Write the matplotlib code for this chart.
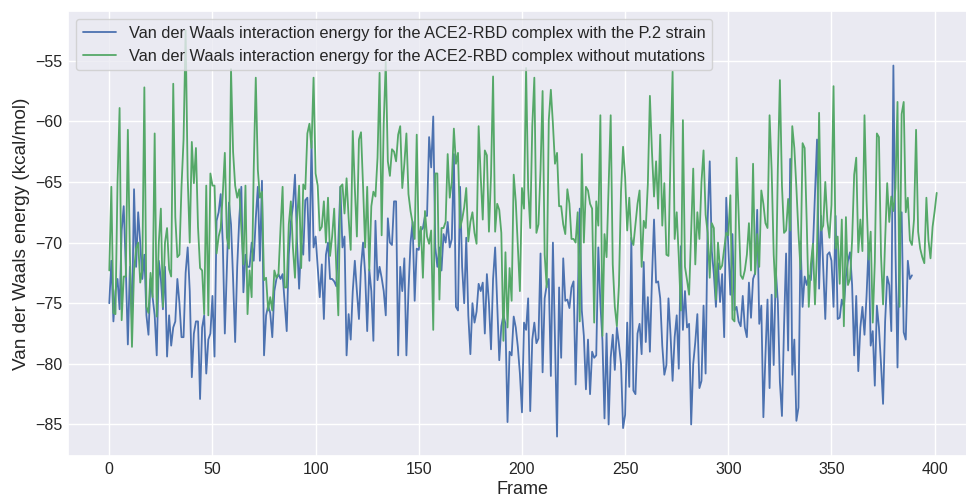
import matplotlib
matplotlib.use('Agg')
import matplotlib.pyplot as plt
import seaborn as sns
import numpy as np

# Van der Waals energy per frame (kcal/mol)
p2_strain = [
    -75, -71.5, -76.5, -74, -73, -75.5, -69, -67, -72, -78.4,
    -72, -76.5, -65.6, -72, -67.5, -70, -73, -71, -76, -77.6,
    -73, -74.5, -76, -79.3, -71.5, -73, -75.5, -72, -79.4, -76,
    -78.5, -77, -76.5, -73, -75, -77.8, -77.8, -72.5, -70.4, -74,
    -81.1, -77.5, -76.5, -76.5, -82.9, -77, -76, -80.8, -78, -77.5,
    -74.4, -79.4, -68.2, -67.5, -66, -70, -77.5, -72, -66.7, -68.5,
    -73, -78.2, -72, -68, -65.4, -74.1, -71, -72, -72, -70,
    -71.5, -68, -65.4, -71.5, -64.9, -79.3, -76, -75.2, -75.8, -77.8,
    -74, -73, -72.6, -73, -72.6, -75, -77.3, -71, -68.3, -67,
    -64.4, -70, -73.8, -70, -71, -66.5, -66.3, -71.5, -61.6, -70.4,
    -69.5, -72, -74.5, -71.8, -76.3, -71, -70, -73, -73, -73.2,
    -73.6, -70, -65.4, -70.4, -69.5, -79.3, -75.9, -78, -74, -71.5,
    -74, -76.3, -72, -70, -72.6, -77.3, -72.2, -74, -78.1, -68.2,
    -73.1, -72, -72.9, -74, -76, -68, -70, -70.2, -66.6, -66.6,
    -79.3, -72, -74, -71.3, -79.3, -74, -70, -68.3, -74.8, -70.5,
    -70.6, -69, -68.8, -67.8, -67.8, -61.3, -63.8, -59.6, -70.4, -72,
    -70.4, -72.3, -69.3, -70, -68.3, -70.4, -69.7, -62.7, -75.3, -75.6,
    -65.4, -72, -75, -69.6, -76, -79.2, -75, -76.6, -75.7, -73.4,
    -74, -73.3, -77.5, -72.6, -75, -78.8, -73, -70.4, -75, -79.7,
    -76.9, -76, -76.7, -84.8, -79, -79.3, -76.1, -77, -78.6, -80.8,
    -84, -76.6, -77.2, -74.6, -83.9, -78, -76.6, -78.3, -77.9, -70.9,
    -80.7, -74.6, -73.5, -73, -81, -70, -78.1, -86, -73.7, -79.5,
    -71.3, -74.8, -74.7, -75.4, -73.7, -73.2, -81.7, -75, -67.2, -75.6,
    -77.7, -82.1, -78, -82.5, -79, -79.5, -79.3, -70.4, -75, -78.1,
    -84.5, -77.5, -85, -79.5, -77.6, -80.5, -77, -78.4, -80, -85.3,
    -84.2, -76.6, -81.9, -69.6, -82.2, -82.5, -77.5, -76.7, -79.2, -71.6,
    -78.2, -74.5, -79, -73, -68.1, -73.3, -73.2, -74.6, -78.5, -80.9,
    -80.1, -74.6, -77.6, -81.4, -77.8, -76, -80.4, -70.3, -77.2, -74,
    -77, -76.7, -85, -80, -78.2, -75.9, -82, -81.4, -75.2, -80.8,
    -68.1, -63.3, -70.7, -72.6, -75.3, -71.7, -74.9, -72.6, -77.8, -66.3,
    -70.2, -74.3, -69.3, -75.6, -75.3, -76.5, -76.9, -74.4, -77, -77.8,
    -73.3, -76.2, -73, -72.5, -67.3, -76.7, -75.2, -84.4, -79.3, -74.7,
    -82, -74.3, -80.1, -72.2, -74.9, -81.5, -84.3, -77, -70.9, -78.9,
    -63.1, -80.9, -78, -84.7, -83.6, -69.9, -75.3, -72.8, -73.5, -72.7,
    -73.1, -70.5, -66, -61.5, -73.8, -67.8, -72, -76.3, -71, -70.8,
    -71.5, -75.3, -67.8, -76.3, -76.2, -74.7, -75.3, -72.8, -71.5, -70.8,
    -73.5, -79.3, -74.4, -80.6, -77, -75.3, -77.6, -74.4, -70.2, -78.5,
    -77.3, -81.8, -75.2, -77, -80, -83.3, -76.5, -72.8, -73.5, -77.3,
    -55.4, -70.5, -80.3, -69.8, -67.5, -77.4, -78, -71.5, -73, -72.7,
]

wild_type = [
    -72.3, -65.4, -75.8, -75.9, -65, -58.9, -76.4, -72.8, -72.8, -60.7,
    -71, -78.6, -72.3, -70.5, -70, -73.3, -72.2, -57.2, -75.3, -75.8,
    -72.5, -74.5, -61, -76.1, -70, -67.2, -75.3, -70, -68.8, -72.2,
    -72.8, -56.9, -67.9, -71.2, -71, -65.4, -61.5, -52.5, -64.6, -70,
    -61.7, -65.1, -62.2, -68.7, -72.1, -72.3, -75.9, -65.3, -76, -64.3,
    -65.3, -65.3, -70.9, -69.5, -68.8, -66, -62.6, -69.6, -70.5, -55.7,
    -62.5, -65.3, -66.3, -65.6, -68.8, -71.8, -65.3, -75.9, -72.3, -74.5,
    -64, -56.4, -64, -66.3, -65.8, -73.1, -72.9, -75.6, -74.5, -75.6,
    -72.3, -72.9, -72.6, -68.8, -65.4, -73.7, -73.7, -68.5, -66.6, -70.4,
    -72.9, -68.2, -65.3, -72.1, -65.2, -65.6, -61, -60.2, -62.2, -56.4,
    -64.3, -65.3, -69, -68.7, -66.6, -70, -66.3, -71.1, -69.5, -67.2,
    -72, -76, -65.4, -65.2, -67.6, -64.7, -68, -70.6, -60.8, -65.5,
    -69.5, -61.5, -60.9, -65.4, -70.4, -65.4, -72.3, -67, -65.8, -66.2,
    -63, -56, -69.4, -60.2, -55.1, -63.3, -64.5, -62.3, -62.5, -63.3,
    -61.1, -60.4, -65.5, -63.5, -61, -66, -67.4, -68.4, -69.7, -61.1,
    -70.3, -68.7, -72.9, -67.4, -69.5, -70.1, -69, -77.2, -64.3, -64.3,
    -74.7, -68.8, -68.8, -68.3, -62.7, -66.3, -65, -60.6, -63.5, -62.6,
    -68.8, -68.1, -67.1, -65.5, -69.9, -68.3, -67.5, -69.2, -70.1, -60.4,
    -64.5, -68.1, -62.4, -62.8, -69.1, -64.5, -56.3, -69.1, -66.8, -67.3,
    -69.2, -78.1, -70.8, -77, -72.1, -74.8, -64.4, -66.6, -70.3, -74,
    -65.5, -67.2, -55.6, -65.5, -68.8, -60.4, -56.4, -69.2, -68.5, -64,
    -57.5, -71, -73.7, -59.9, -57.4, -60.2, -63.5, -62.6, -67, -67,
    -68.5, -69.3, -65.6, -66.8, -69.7, -69.7, -70, -67.5, -76.5, -62.7,
    -70, -65.4, -65.7, -66.8, -67.2, -76.6, -66.6, -68.6, -59.5, -77.7,
    -69.3, -71.2, -65.4, -59.5, -71.8, -75.3, -76.9, -73.5, -65.8, -62.1,
    -64.6, -69, -66.3, -69.7, -70.2, -68.5, -66.8, -65.7, -72, -68.2,
    -68.8, -65.2, -57.9, -62.5, -66.2, -63.3, -67.2, -61.1, -68.6, -65.1,
    -71, -71.1, -62.7, -55.9, -69.7, -67.5, -71.2, -75.6, -59.9, -72,
    -73.1, -74.3, -69, -63.9, -71.8, -67.5, -69.7, -65, -62.4, -67.7,
    -69.2, -72.9, -68.4, -68.8, -74.7, -70, -72.2, -71.9, -70.5, -69.2,
    -69.4, -66.1, -76.3, -76.5, -63, -67.6, -72.7, -73, -72.3, -71,
    -68.4, -72.3, -63.5, -72.6, -69.3, -72, -65.7, -66.8, -68.4, -68.8,
    -59.5, -64, -71, -74.5, -64, -56.6, -65.3, -69.2, -69, -66.4,
    -69, -60.4, -62.2, -65.5, -69.2, -72.2, -61.8, -62.2, -68.3, -75.3,
    -71.8, -70.1, -75.1, -70.7, -59.3, -69, -68.6, -65, -68.2, -69.6,
    -66.9, -57.1, -70.5, -69.5, -73.4, -68.1, -76.9, -67.9, -73.5, -73,
    -69.8, -64.4, -63, -70.8, -68.1, -70.7, -59.5, -66.5, -71.4, -69.1,
    -76.6, -71.6, -61, -61.3, -71, -75.1, -69.8, -65.1, -68.3, -66.2,
    -67.4, -65.5, -58.4, -75.3, -59.4, -58.4, -67.5, -66.3, -69.8, -70.2,
    -68.1, -60.7, -69.1, -70.5, -71.2, -71.7, -66.3, -69.8, -71.3, -68.7,
    -67.4, -65.9,
]

label_p2 = 'Van der Waals interaction energy for the ACE2-RBD complex with the P.2 strain'
label_wt = 'Van der Waals interaction energy for the ACE2-RBD complex without mutations'

sns.set_theme(style='darkgrid')
plt.rcParams['font.family'] = ['Liberation Sans', 'DejaVu Sans']

fig = plt.figure(figsize=(9.66, 4.95), dpi=100)
ax = fig.add_axes([0.0704, 0.0788, 0.942, 0.899])

ax.plot(np.arange(len(p2_strain)), p2_strain, color='#4C72B0', lw=1.3, label=label_p2)
ax.plot(np.arange(len(wild_type)), wild_type, color='#55A868', lw=1.3, label=label_wt)

ax.set_xlim(-20, 421)
ax.set_ylim(-87.6, -50.9)
ax.set_xlabel('Frame', fontsize=13, labelpad=3)
ax.set_ylabel('Van der Waals energy (kcal/mol)', fontsize=13.7, labelpad=4)
ax.tick_params(labelsize=11.5, length=0, pad=4)
ax.legend(loc='upper left', fontsize=11.8)

fig.savefig('out.png', dpi=100)
